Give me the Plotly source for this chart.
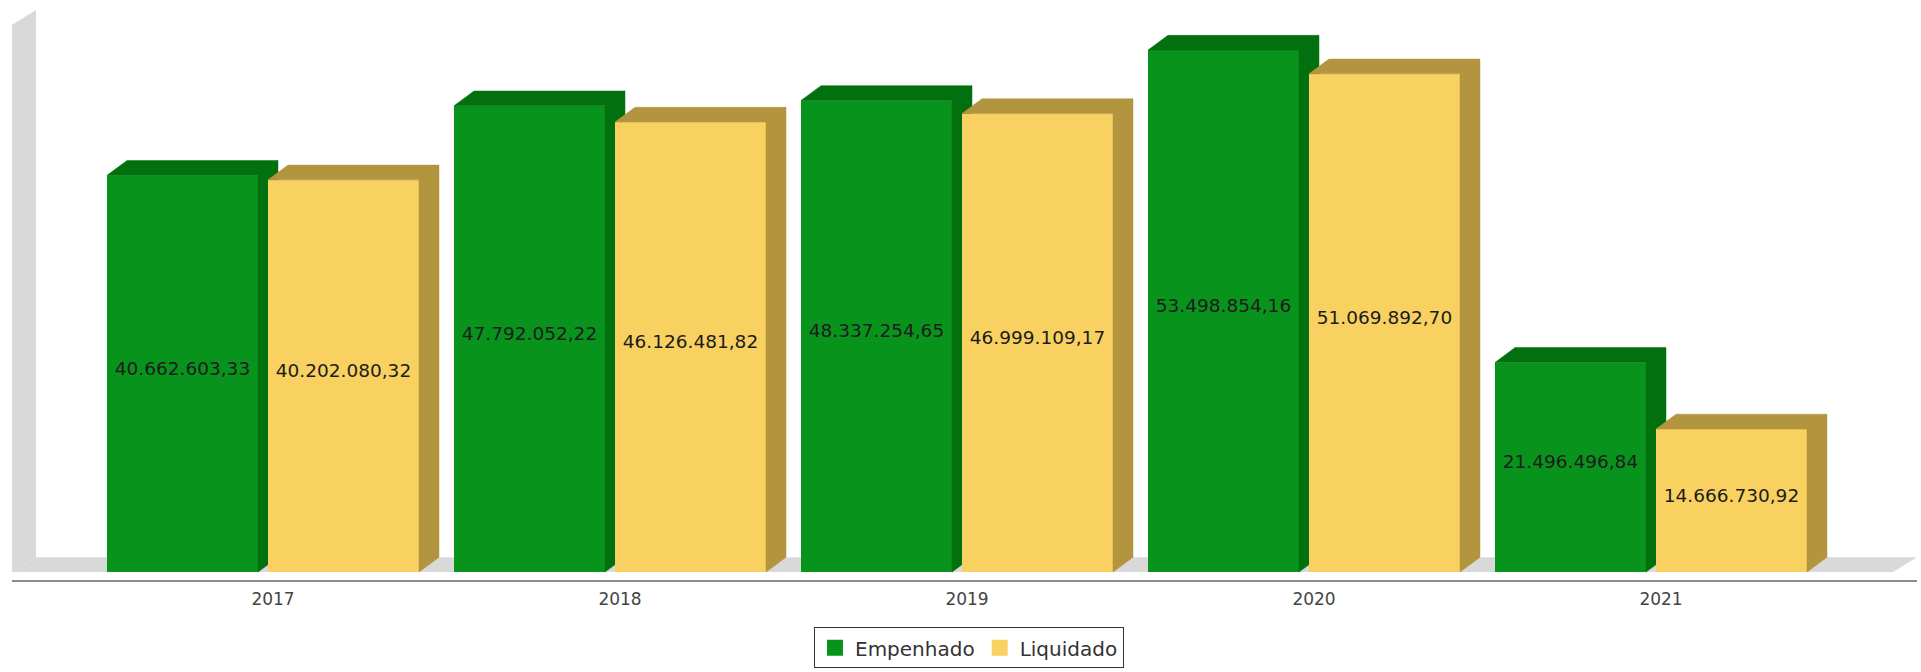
import plotly.graph_objects as go

# ---------------- data ----------------
years = ["2017", "2018", "2019", "2020", "2021"]
empenhado = [40662603.33, 47792052.22, 48337254.65, 53498854.16, 21496496.84]
liquidado = [40202080.32, 46126481.82, 46999109.17, 51069892.70, 14666730.92]
series_names = ["Empenhado", "Liquidado"]

# ---------------- style ----------------
GREEN_FRONT, GREEN_DARK = "#08931c", "#02700f"
YELLOW_FRONT, YELLOW_DARK = "#f8d160", "#b3943f"
FONT = "DejaVu Sans"

W, H = 1921, 672
L, R, T, B = 12, 1917, 5, 589      # plot area in pixels
BASE_PX = 581                       # pixel row of value 0
K = 9.91e-6                         # pixels per unit of value
CAT0_PX, CAT_STEP = 263, 347        # pixel centre of first category, spacing

x_range = [(L - CAT0_PX) / CAT_STEP, (R - CAT0_PX) / CAT_STEP]
y_range = [(BASE_PX - B) / K, (BASE_PX - T) / K]

DX = 20 / CAT_STEP                  # 3D depth (x, data units)
DY = 15 / K                         # 3D depth (y, data units)
BAR_W = 151 / CAT_STEP
OFF = 80.5 / CAT_STEP


def fmt_br(v):
    s = f"{v:,.2f}"
    return s.replace(",", "X").replace(".", ",").replace("X", ".")


def px_paper(px, py):
    return (px - L) / (R - L), (B - py) / (B - T)


fig = go.Figure()

specs = [
    (empenhado, -OFF, GREEN_FRONT, GREEN_DARK, "x", "y", series_names[0]),
    (liquidado, OFF, YELLOW_FRONT, YELLOW_DARK, "x2", "y2", series_names[1]),
]

for vals, off, cfront, cdark, xa, ya, name in specs:
    xs = [i + off for i in range(len(years))]
    fig.add_trace(go.Bar(
        x=xs, y=vals, width=BAR_W, marker=dict(color=cfront, line=dict(width=0)),
        showlegend=False, xaxis=xa, yaxis=ya, name=name,
        hovertemplate="%{y:,.2f}<extra>" + name + "</extra>",
    ))
    fx, fy = [], []
    for xc, v in zip(xs, vals):
        x0, x1 = xc - BAR_W / 2, xc + BAR_W / 2
        # side face
        fx += [x1, x1 + DX, x1 + DX, x1, x1, None]
        fy += [0, DY, v + DY, v, 0, None]
        # top face
        fx += [x0, x0 + DX, x1 + DX, x1, x0, None]
        fy += [v, v + DY, v + DY, v, v, None]
    fig.add_trace(go.Scatter(
        x=fx, y=fy, mode="lines", fill="toself", fillcolor=cdark,
        line=dict(color=cdark, width=0.5), showlegend=False, hoverinfo="skip",
        xaxis=xa, yaxis=ya,
    ))
    fig.add_trace(go.Scatter(
        x=xs, y=[(v + DY / 2) / 2 for v in vals], mode="text",
        text=[fmt_br(v) for v in vals],
        textfont=dict(family=FONT, size=18.5, color="#1c1c1c"),
        showlegend=False, hoverinfo="skip", xaxis=xa, yaxis=ya, cliponaxis=False,
    ))
    fig.add_trace(go.Scatter(
        x=[None], y=[None], mode="markers", name=name,
        marker=dict(symbol="square", size=16, color=cfront),
        xaxis=xa, yaxis=ya,
    ))

# 3D wall and floor
def path(points):
    pts = [px_paper(*p) for p in points]
    return "M " + " L ".join(f"{a:.5f},{b:.5f}" for a, b in pts) + " Z"

FLOOR_BACK = BASE_PX - 15
shapes = [
    dict(type="path", xref="paper", yref="paper", layer="below",
         path=path([(12, 25), (36, 10), (36, FLOOR_BACK), (12, BASE_PX)]),
         fillcolor="#d9d9d9", line=dict(width=0)),
    dict(type="path", xref="paper", yref="paper", layer="below",
         path=path([(12, BASE_PX), (36, FLOOR_BACK), (1917, FLOOR_BACK), (1893, BASE_PX)]),
         fillcolor="#d9d9d9", line=dict(width=0)),
]

leg_x, leg_y = px_paper(969, 637)

fig.update_layout(
    width=W, height=H, autosize=False,
    margin=dict(l=L, r=W - R, t=T, b=H - B, pad=0),
    paper_bgcolor="white", plot_bgcolor="white",
    barmode="overlay",
    shapes=shapes,
    font=dict(family=FONT, color="#333333"),
    xaxis=dict(range=x_range, tickvals=[i + DX / 2 for i in range(len(years))],
               ticktext=years, showgrid=False, zeroline=False, showline=True,
               linecolor="#8c8c8c", linewidth=1.5, ticks="outside", ticklen=3,
               tickcolor="rgba(0,0,0,0)", tickfont=dict(family=FONT, size=17, color="#444444"),
               fixedrange=True),
    yaxis=dict(range=y_range, visible=False, fixedrange=True),
    xaxis2=dict(range=x_range, overlaying="x", anchor="y2", visible=False, fixedrange=True),
    yaxis2=dict(range=y_range, overlaying="y", anchor="x2", visible=False, fixedrange=True),
    legend=dict(orientation="h", x=leg_x, xanchor="center", y=leg_y, yanchor="top",
                bordercolor="#333333", borderwidth=1, bgcolor="white",
                font=dict(family=FONT, size=20, color="#333333"),
                itemsizing="trace", tracegroupgap=0),
)

fig.write_html("out.html", config={"displayModeBar": False},
               post_script="document.body.style.margin='0';document.body.style.overflow='hidden';")
